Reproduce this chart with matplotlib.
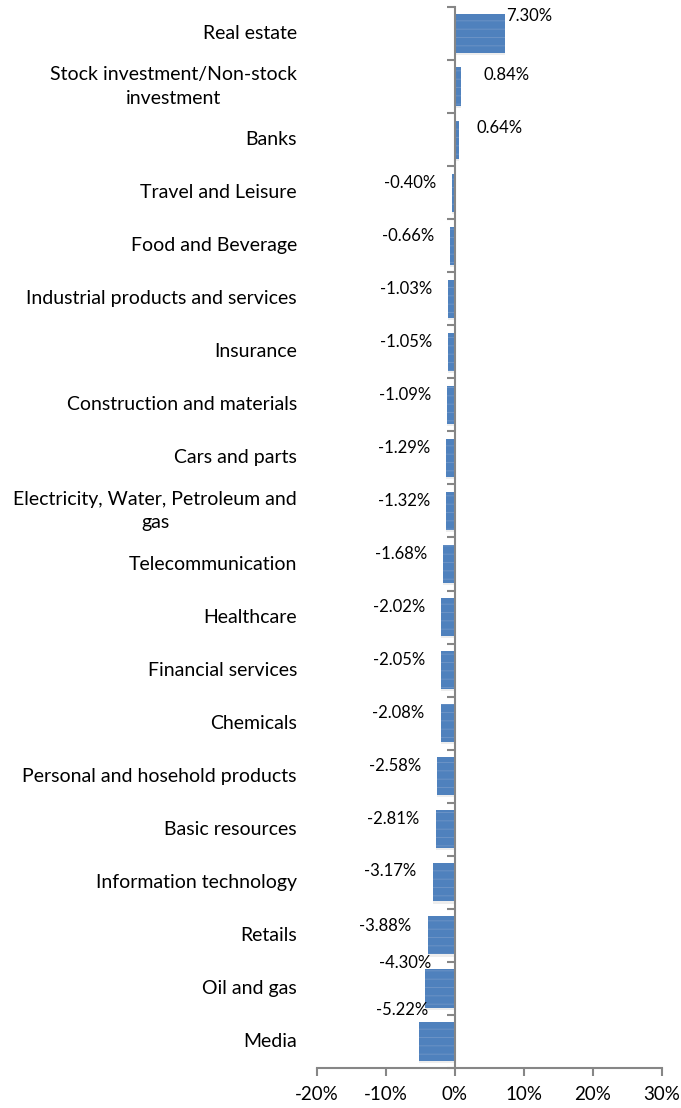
import numpy as np
import matplotlib
matplotlib.use("Agg")
import matplotlib.pyplot as plt
from matplotlib.ticker import FixedLocator, PercentFormatter

# Sector names, top to bottom
sectors = [
    "Real estate",
    "Stock investment/Non-stock\ninvestment",
    "Banks",
    "Travel and Leisure",
    "Food and Beverage",
    "Industrial products and services",
    "Insurance",
    "Construction and materials",
    "Cars and parts",
    "Electricity, Water, Petroleum and\ngas",
    "Telecommunication",
    "Healthcare",
    "Financial services",
    "Chemicals",
    "Personal and hosehold products",
    "Basic resources",
    "Information technology",
    "Retails",
    "Oil and gas",
    "Media",
]

# Change in percent
changes = [7.30, 0.84, 0.64, -0.40, -0.66, -1.03, -1.05, -1.09, -1.29, -1.32,
           -1.68, -2.02, -2.05, -2.08, -2.58, -2.81, -3.17, -3.88, -4.30, -5.22]

x_ticks = [-20, -10, 0, 10, 20, 30]

# label offsets in pixels (dx, dy) from the bar end, as Excel placed them
label_dx = [1, 23, 17, -16, -16, -16, -16, -16, -16, -16,
            -16, -16, -16, -16, -16, -16, -17, -17, 6, 9]
label_dy = [18, 12, 12, 10, 10, 10, 10, 10, 10, 10,
            10, 10, 10, 10, 10, 10, 11, 9, 25, 31]

BAR_COLOR = "#4F81BD"
STRIPE_COLOR = "#6B93C6"
AXIS_COLOR = "#868686"
FONT = "Lato"


def main():
    plt.rcParams["font.family"] = [FONT, "DejaVu Sans"]
    plt.rcParams["axes.unicode_minus"] = False
    plt.rcParams["hatch.linewidth"] = 0.7
    plt.rcParams["hatch.color"] = STRIPE_COLOR

    fig = plt.figure(figsize=(6.81, 11.08), dpi=100)
    ax = fig.add_axes([317 / 681, 40 / 1108, 345 / 681, 1061 / 1108])

    y = np.arange(len(sectors))

    # soft shadow behind bars
    ax.barh(y + 0.04, changes, height=0.72, color="#000000",
            alpha=0.07, linewidth=0, zorder=1)
    ax.barh(y, changes, height=0.72, color=BAR_COLOR, edgecolor=STRIPE_COLOR,
            linewidth=0, hatch="--", zorder=2)

    ax.set_xlim(-20, 30)
    ax.set_ylim(len(sectors) - 0.5, -0.5)

    # spines
    for side in ["top", "right"]:
        ax.spines[side].set_visible(False)
    ax.spines["left"].set_position(("data", 0))
    ax.spines["left"].set_color(AXIS_COLOR)
    ax.spines["left"].set_linewidth(1.5)
    ax.spines["left"].set_zorder(3)
    ax.spines["bottom"].set_color(AXIS_COLOR)
    ax.spines["bottom"].set_linewidth(1.5)

    # category boundary ticks on the zero line
    ax.yaxis.set_major_locator(FixedLocator(np.arange(-0.5, len(sectors), 1.0)))
    ax.tick_params(axis="y", which="major", length=6, width=1.5,
                   color=AXIS_COLOR, labelleft=False)

    ax.set_xticks(x_ticks)
    ax.xaxis.set_major_formatter(PercentFormatter(decimals=0))
    ax.tick_params(axis="x", length=6, width=1.5, color=AXIS_COLOR,
                   labelsize=13.5, pad=7)

    # category labels on the left
    for yi, name in zip(y, sectors):
        ax.annotate(name, xy=(0, yi), xycoords=("axes fraction", "data"),
                    xytext=(-20 * 0.72, 0), textcoords="offset points",
                    ha="right", va="center", multialignment="center",
                    fontsize=14, color="#000000", linespacing=1.45)

    # value labels
    for yi, val, dx, dy in zip(y, changes, label_dx, label_dy):
        ha = "left" if val > 0 else "right"
        ax.annotate(f"{val:.2f}%", xy=(val, yi),
                    xytext=(dx * 0.72, dy * 0.72), textcoords="offset points",
                    ha=ha, va="center", fontsize=12, color="#000000",
                    zorder=4)

    fig.savefig("out.png", dpi=100)


if __name__ == "__main__":
    main()
